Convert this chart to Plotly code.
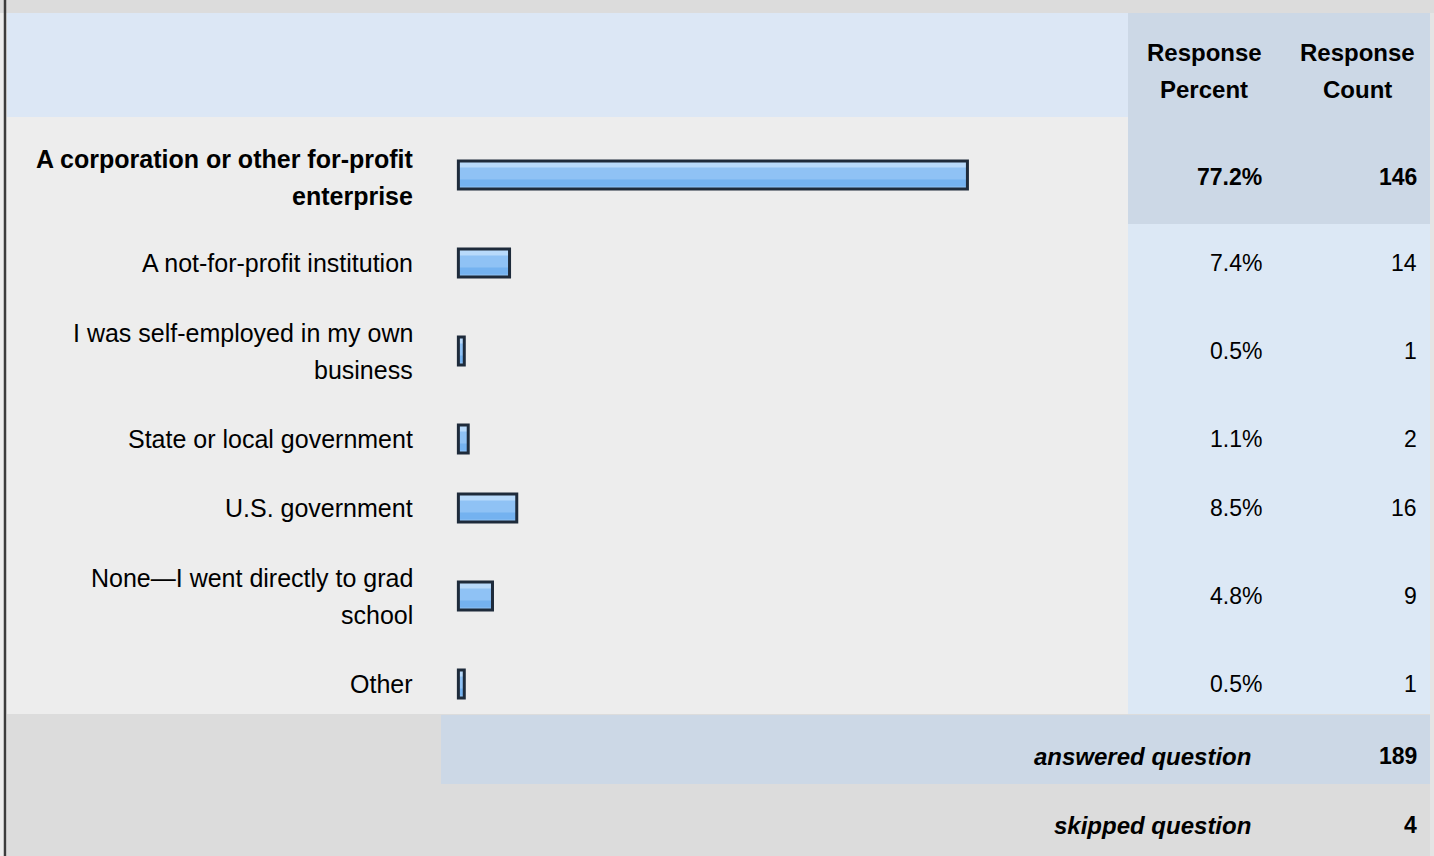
import plotly.graph_objects as go

# ---------------- data ----------------
categories = [
    "A corporation or other for-profit<br>enterprise",
    "A not-for-profit institution",
    "I was self-employed in my own<br>business",
    "State or local government",
    "U.S. government",
    "None\u2014I went directly to grad<br>school",
    "Other",
]
response_percent = [77.2, 7.4, 0.5, 1.1, 8.5, 4.8, 0.5]
response_count = [146, 14, 1, 2, 16, 9, 1]
header_percent = "Response<br>Percent"
header_count = "Response<br>Count"
answered_label = "answered question"
answered_value = 189
skipped_label = "skipped question"
skipped_value = 4
highlight_index = 0

# ---------------- layout constants ----------------
W, H = 1434, 856
FONT = "Liberation Sans, Arial, Helvetica, sans-serif"
LINE_H = 37
ROW_TOP = 117
ZERO_PX, PX_PER_PCT = 461, 6.56
BAR_BASE = -0.4          # small stub so tiny bars stay visible
X_MIN = -2
COL_SPLIT = 1128
RIGHT_EDGE = 1430

def px(x):
    return x / W

# row geometry derived from the label line counts
row_tops, row_heights, row_centers = [], [], []
y = ROW_TOP
for lab in categories:
    n = lab.count("<br>") + 1
    h = 31 + 38 * n
    row_tops.append(y)
    row_heights.append(h)
    row_centers.append(y + h / 2 + 4.5)
    y += h
BODY_END = y

fig = go.Figure()

def bar_layer(yvals, width, color, line=None, hover=False):
    fig.add_trace(go.Bar(
        x=[p - BAR_BASE for p in response_percent], base=BAR_BASE,
        y=yvals, orientation="h", width=width,
        marker=dict(color=color, line=line or dict(width=0)),
        hovertemplate="%{customdata}%<extra></extra>" if hover else None,
        customdata=response_percent, hoverinfo=None if hover else "skip"))

# bar layers (simulated vertical gradient)
bar_layer(row_centers, 28, "#8fc2f5")
bar_layer([c - 11 for c in row_centers], 7, "#b8dafb")
bar_layer([c + 8 for c in row_centers], 7, "#74b2f0")
bar_layer(row_centers, 28, "rgba(0,0,0,0)", dict(width=3, color="#1e2b3b"), hover=True)

shapes = []
def rect(x0, x1, y0, y1, color):
    shapes.append(dict(type="rect", xref="paper", yref="y", x0=px(x0), x1=px(x1), y0=y0, y1=y1,
                       fillcolor=color, line=dict(width=0), layer="below"))

rect(0, W, 0, 13, "#dcdcdc")                         # top strip
rect(7, COL_SPLIT, 13, ROW_TOP, "#dce7f5")            # header band
rect(COL_SPLIT, RIGHT_EDGE, 13, ROW_TOP, "#ccd8e6")   # header columns
rect(7, COL_SPLIT, ROW_TOP, BODY_END, "#ededed")      # body
rect(COL_SPLIT, RIGHT_EDGE, ROW_TOP, BODY_END, "#dce8f5")
rect(COL_SPLIT, RIGHT_EDGE, row_tops[highlight_index],
     row_tops[highlight_index] + row_heights[highlight_index], "#ccd8e6")
rect(7, W, BODY_END, H, "#dcdcdc")                    # footer
rect(441, RIGHT_EDGE, BODY_END + 1, BODY_END + 70, "#ccd8e6")
rect(RIGHT_EDGE, W, 13, H, "#e4e4e4")
shapes.append(dict(type="line", xref="paper", yref="y", x0=px(5), x1=px(5), y0=0, y1=H,
                   line=dict(color="#3c3c3c", width=2.5)))

annotations = []
def text(t, x, yc, anchor="right", size=23, bold=False, italic=False):
    lines = t.split("<br>")
    n = len(lines)
    for i, ln in enumerate(lines):
        yy = yc + (i - (n - 1) / 2) * LINE_H
        s = ln
        if bold:
            s = "<b>" + s + "</b>"
        if italic:
            s = "<i>" + s + "</i>"
        annotations.append(dict(text=s, xref="paper", yref="y", x=px(x), y=yy,
                                xanchor=anchor, yanchor="middle", showarrow=False,
                                font=dict(family=FONT, size=size, color="#000000")))

text(header_percent, 1204, 71, anchor="center", size=24, bold=True)
text(header_count, 1357, 71, anchor="center", size=24, bold=True)

for i, lab in enumerate(categories):
    b = (i == highlight_index)
    yc = row_centers[i] + (2 if b else 0)
    text(lab, 415, yc, size=25, bold=b)
    text(f"{response_percent[i]:.1f}%", 1264, yc, size=23, bold=b)
    text(str(response_count[i]), 1419, yc, size=23, bold=b)

text(answered_label, 1253, BODY_END + 42, size=24, bold=True, italic=True)
text(str(answered_value), 1419, BODY_END + 42, size=23, bold=True)
text(skipped_label, 1253, BODY_END + 111, size=24, bold=True, italic=True)
text(str(skipped_value), 1419, BODY_END + 111, size=23, bold=True)

fig.update_layout(
    width=W, height=H, margin=dict(l=0, r=0, t=0, b=0),
    paper_bgcolor="#ededed", plot_bgcolor="rgba(0,0,0,0)",
    barmode="overlay", showlegend=False,
    xaxis=dict(domain=[px(ZERO_PX + X_MIN * PX_PER_PCT), px(ZERO_PX + 100 * PX_PER_PCT)],
               range=[X_MIN, 100], visible=False, fixedrange=True),
    yaxis=dict(domain=[0, 1], range=[H, 0], visible=False, fixedrange=True),
    shapes=shapes, annotations=annotations,
)

fig.write_html("out.html", config={"displayModeBar": False},
               post_script="document.body.style.margin='0';document.body.style.padding='0';"
                           "document.body.style.overflow='hidden';")
